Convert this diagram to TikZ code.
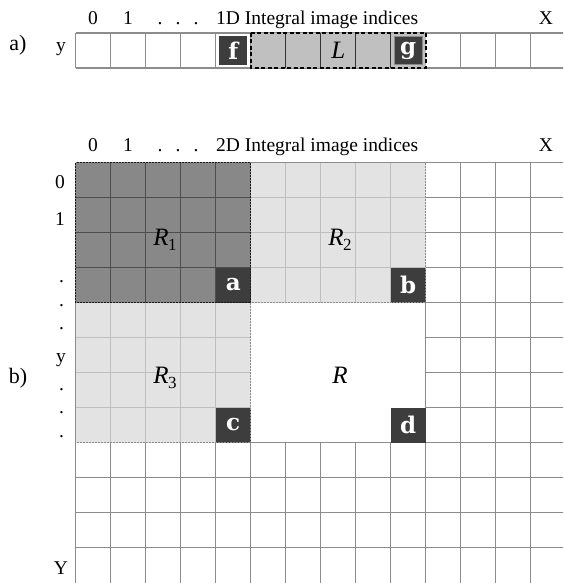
\documentclass[tikz,border=0pt]{standalone}
\usepackage{fontspec}
\setmainfont{Liberation Serif}
\newfontfamily\cellfont{DejaVu Serif}
\definecolor{gridgray}{HTML}{8C8C8C}
\definecolor{darkfill}{HTML}{888888}
\definecolor{darkline}{HTML}{4D4D4D}
\definecolor{lightfill}{HTML}{E3E3E3}
\definecolor{lightline}{HTML}{BEBEBE}
\definecolor{cellgray}{HTML}{3D3D3D}
\definecolor{lfill}{HTML}{C0C0C0}
\newcommand{\rlab}[1]{{\itshape R}\kern-0.5pt\raisebox{-5pt}{\fontsize{17}{17}\selectfont #1}}
\begin{document}
\begin{tikzpicture}[x=1pt,y=-1pt,
  gridl/.style={draw=gridgray,line width=1.2pt},
  innerdark/.style={draw=darkline,line width=1.2pt},
  innerlight/.style={draw=lightline,line width=1.2pt},
  innerl/.style={draw=black!80,line width=0.9pt},
  corner/.style={fill=cellgray,text=white,minimum size=35pt,inner sep=0pt,font=\cellfont\bfseries\fontsize{23}{23}\selectfont},
  smallcorner/.style={fill=cellgray,text=white,minimum size=28.5pt,inner sep=0pt,font=\cellfont\bfseries\fontsize{23}{23}\selectfont},
  idx/.style={font=\fontsize{19.5}{19.5}\selectfont,inner sep=0pt,anchor=base},
  rlabel/.style={font=\fontsize{25}{25}\selectfont,inner sep=0pt},
  part/.style={font=\fontsize{22}{22}\selectfont,inner sep=0pt},
  r1border/.style={draw=black!90,line width=1.1pt,dash pattern=on 2pt off 1pt},
  r2border/.style={draw=black!45,line width=1.1pt,dash pattern=on 2pt off 1pt},
  lborder/.style={draw=black,line width=2.4pt,dash pattern=on 4pt off 2.5pt}]
\useasboundingbox (0,0) rectangle (563,583);
\begin{scope}
\clip (0,0) rectangle (563,583);
% ---------- 1D strip ----------
\foreach \i in {0,...,13} \draw[gridl] ({75.7+35*\i},33) -- ({75.7+35*\i},68);
\draw[gridl] (75.7,33) -- (570,33);
\draw[gridl] (75.7,68) -- (570,68);
\fill[lfill] (250.7,33) rectangle (425.7,68);
\foreach \i in {6,...,9} \draw[innerl] ({75.7+35*\i},33) -- ({75.7+35*\i},68);
\node[smallcorner] (f) at (233.2,50.5) {f};
\node[smallcorner,draw=black!45,line width=0.8pt] (g) at (408.2,50.5) {g};
\node[rlabel] (L) at (338.2,50.5) {\itshape L};
\draw[lborder] (250.7,33) rectangle (425.7,68);
% ---------- 2D grid ----------
\foreach \i in {0,...,13} \draw[gridl] ({75.7+35*\i},162.5) -- ({75.7+35*\i},590);
\foreach \j in {0,...,11} \draw[gridl] (75.7,{162.5+35*\j}) -- (570,{162.5+35*\j});
\fill[darkfill] (75.7,162.5) rectangle (250.7,302.5);
\fill[lightfill] (250.7,162.5) rectangle (425.7,302.5);
\fill[lightfill] (75.7,302.5) rectangle (250.7,442.5);
\fill[white] (250.7,302.5) rectangle (425.7,442.5);
\foreach \i in {1,...,4} \draw[innerdark] ({75.7+35*\i},162.5) -- ({75.7+35*\i},302.5);
\foreach \j in {1,...,3} \draw[innerdark] (75.7,{162.5+35*\j}) -- (250.7,{162.5+35*\j});
\foreach \i in {6,...,9} \draw[innerlight] ({75.7+35*\i},162.5) -- ({75.7+35*\i},302.5);
\foreach \j in {1,...,3} \draw[innerlight] (250.7,{162.5+35*\j}) -- (425.7,{162.5+35*\j});
\foreach \i in {1,...,4} \draw[innerlight] ({75.7+35*\i},302.5) -- ({75.7+35*\i},442.5);
\foreach \j in {5,...,7} \draw[innerlight] (75.7,{162.5+35*\j}) -- (250.7,{162.5+35*\j});
\draw[gridl] (425.7,302.5) -- (425.7,442.5) -- (250.7,442.5);
\node[corner] (a) at (233.2,285) {a};
\node[corner] (b) at (408.2,285) {b};
\node[corner] (c) at (233.2,425) {c};
\node[corner] (d) at (408.2,425) {d};
\draw[r2border] (250.7,162.5) rectangle (425.7,302.5);
\draw[r2border] (75.7,302.5) rectangle (250.7,442.5);
\draw[r1border] (75.7,162.5) rectangle (250.7,302.5);
\node[rlabel] (R1) at (165,240) {\rlab{1}};
\node[rlabel] (R2) at (340,240) {\rlab{2}};
\node[rlabel] (R3) at (165,378) {\rlab{3}};
\node[rlabel] (R) at (340,375) {\itshape R};
\end{scope}
% ---------- labels ----------
\node[part] (pa) at (18,45) {a)};
\node[part] (pb) at (18,378) {b)};
\node[idx] (y1) at (61,52) {y};
\node[idx] (t0) at (93,25) {0};
\node[idx] (t1) at (128,25) {1};
\node[idx] (td1) at (160,25) {.};
\node[idx] (td2) at (178,25) {.};
\node[idx] (td3) at (196,25) {.};
\node[idx,anchor=base west] (t1d) at (216,25) {1D Integral image indices};
\node[idx] (tX) at (546,25) {X};
\node[idx] (u0) at (93,151) {0};
\node[idx] (u1) at (128,151) {1};
\node[idx] (ud1) at (160,151) {.};
\node[idx] (ud2) at (178,151) {.};
\node[idx] (ud3) at (196,151) {.};
\node[idx,anchor=base west] (t2d) at (216,151) {2D Integral image indices};
\node[idx] (uX) at (546,151) {X};
\node[idx] (l0) at (60,188) {0};
\node[idx] (l1) at (60,225) {1};
\foreach \yy/\nm in {282/ld1,306/ld2,329/ld3,390/ld4,413/ld5,437/ld6}
  \node[idx] (\nm) at (61.5,\yy) {.};
\node[idx] (ly) at (61,362) {y};
\node[idx] (lY) at (61,574) {Y};
\end{tikzpicture}
\end{document}
